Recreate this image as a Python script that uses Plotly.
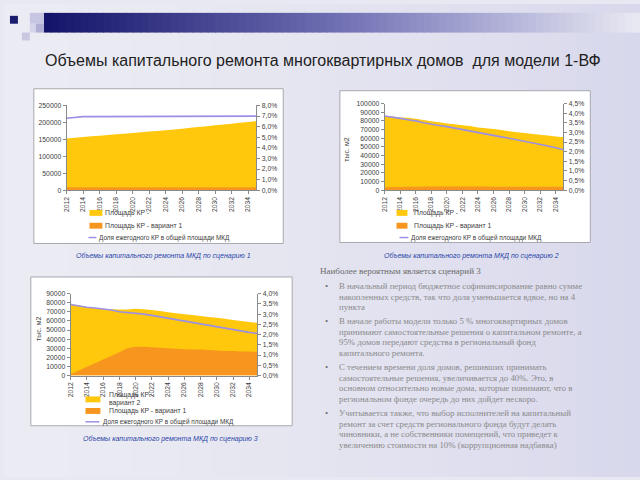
import plotly.graph_objects as go

# ---------------- data ----------------
years = [2012, 2013, 2014, 2015, 2016, 2017, 2018, 2019, 2020, 2021, 2022, 2023,
         2024, 2025, 2026, 2027, 2028, 2029, 2030, 2031, 2032, 2033, 2034, 2035]

# scenario 1
s1_var2 = [153000, 155000, 157000, 159000, 161000, 163000, 165000, 167000, 169000, 171000, 173000, 175000,
           177000, 179000, 181500, 184000, 186500, 189000, 191500, 194000, 196500, 199000, 201500, 204000]
s1_var1 = [9000, 9000, 9000, 9000, 9000, 9000, 9000, 9000, 9000, 9000, 9000, 9000,
           9000, 9000, 9000, 9000, 9000, 9000, 9000, 9000, 9000, 9000, 9000, 9000]
s1_share = [6.8, 6.9, 6.95, 6.95, 6.95, 6.95, 6.95, 6.95, 6.95, 6.95, 6.95, 6.95,
            6.95, 6.95, 6.95, 6.95, 6.95, 6.95, 6.95, 6.95, 6.95, 6.95, 6.95, 7.0]

# scenario 2
s2_var2 = [86000, 85000, 84000, 83500, 82500, 81000, 79500, 78500, 77000, 76000, 75000, 74000,
           72500, 71500, 70500, 69500, 68000, 67000, 66000, 65000, 64000, 63000, 62000, 61000]
s2_var1 = [3500, 3600, 3800, 4000, 4000, 4200, 4200, 4200, 4200, 4200, 4200, 4200,
           4200, 4200, 4100, 4100, 4100, 4000, 4000, 4000, 4000, 4000, 4000, 4000]
s2_share = [3.85, 3.8, 3.73, 3.66, 3.6, 3.5, 3.42, 3.36, 3.3, 3.22, 3.15, 3.08,
            3.0, 2.93, 2.85, 2.77, 2.7, 2.62, 2.55, 2.47, 2.4, 2.3, 2.2, 2.1]

# scenario 3
s3_var2 = [78500, 77000, 75500, 74500, 73500, 73000, 72500, 72500, 73500, 73000, 72000, 71000,
           69500, 68500, 67500, 66500, 65500, 64500, 63500, 62500, 61000, 60000, 59000, 58000]
s3_var1 = [1500, 5500, 9500, 13500, 17500, 21500, 25500, 30000, 31500, 31500, 31000, 30500,
           30000, 29500, 29000, 28500, 28500, 28000, 27500, 27000, 27000, 26500, 26500, 26000]
s3_share = [3.47, 3.4, 3.34, 3.3, 3.26, 3.2, 3.12, 3.08, 3.07, 3.0, 2.94, 2.87,
            2.8, 2.74, 2.67, 2.59, 2.51, 2.45, 2.38, 2.31, 2.24, 2.17, 2.11, 2.06]

tick_years = years[::2]

title_text = "Объемы капитального ремонта многоквартирных домов  для модели 1-ВФ"
leg_v2 = "Площадь КР -"
leg_v2b = "вариант 2"
leg_v1 = "Площадь КР - вариант 1"
leg_share = "Доля ежегодного КР в общей площади МКД"
y_title = "тыс. м2"
captions = ["Объемы капитального ремонта МКД по сценарию 1",
            "Объемы капитального ремонта МКД по сценарию 2",
            "Объемы капитального ремонта МКД по сценарию 3"]

heading = "Наиболее вероятным является сценарий 3"
bullets = [
    ["В начальный период бюджетное софинансирование равно сумме",
     "накопленных средств, так что доля уменьшается вдвое, но на 4",
     "пункта"],
    ["В начале работы модели только 5 % многоквартирных домов",
     "принимают самостоятельные решения о капитальном ремонте, а",
     "95% домов передают средства в региональный фонд",
     "капитального ремонта."],
    ["С течением времени доля домов, решивших принимать",
     "самостоятельные решения, увеличивается до 40%. Это, в",
     "основном относительно новые дома, которые понимают, что в",
     "региональном фонде очередь до них дойдет нескоро."],
    ["Учитывается также, что выбор исполнителей на капитальный",
     "ремонт за счет средств регионального фонда будут делать",
     "чиновники, а не собственники помещений, что приведет к",
     "увеличению стоимости на 10% (коррупционная надбавка)"],
]

# ---------------- helpers ----------------
W, H = 640, 480
def px(x):
    return x / W
def py(y):
    return 1 - y / H

YELLOW = "#FFC80C"
ORANGE = "#F7961E"
PURPLE = "#9C8FE6"
AX = "#8a8a8a"
TXT = "#404040"

def hexmix(c1, c2, t):
    a = [int(c1[i:i + 2], 16) for i in (1, 3, 5)]
    b = [int(c2[i:i + 2], 16) for i in (1, 3, 5)]
    return "#" + "".join("%02x" % round(a[k] + (b[k] - a[k]) * t) for k in range(3))

fig = go.Figure()

charts = [
    dict(v2=s1_var2, v1=s1_var1, sh=s1_share, xa="x", ya="y", ya2="y2",
         dom_x=(63, 254), dom_y=(103, 189), ymax=250000, dtick=50000, rmax=8, rdt=1),
    dict(v2=s2_var2, v1=s2_var1, sh=s2_share, xa="x2", ya="y3", ya2="y4",
         dom_x=(383, 563), dom_y=(101, 189), ymax=100000, dtick=10000, rmax=4.5, rdt=0.5),
    dict(v2=s3_var2, v1=s3_var1, sh=s3_share, xa="x3", ya="y5", ya2="y6",
         dom_x=(67, 255), dom_y=(294, 377), ymax=90000, dtick=10000, rmax=4, rdt=0.5),
]

TF = dict(size=6.8, color=TXT, family="Liberation Sans")
layout_axes = {}
for c in charts:
    fig.add_trace(go.Scatter(x=years, y=c["v2"], xaxis=c["xa"], yaxis=c["ya"], mode="none",
                             fill="tozeroy", fillcolor=YELLOW, hoverinfo="skip"))
    fig.add_trace(go.Scatter(x=years, y=c["v1"], xaxis=c["xa"], yaxis=c["ya"], mode="none",
                             fill="tozeroy", fillcolor=ORANGE, hoverinfo="skip"))
    fig.add_trace(go.Scatter(x=years, y=c["sh"], xaxis=c["xa"], yaxis=c["ya2"], mode="lines",
                             line=dict(color=PURPLE, width=1.6), hoverinfo="skip"))
    xk = "xaxis" + c["xa"][1:]
    yk = "yaxis" + c["ya"][1:]
    y2k = "yaxis" + c["ya2"][1:]
    layout_axes[xk] = dict(domain=[px(c["dom_x"][0]), px(c["dom_x"][1])], anchor=c["ya"],
                           range=[years[0], years[-1]], tickvals=tick_years,
                           ticktext=[str(t) for t in tick_years], tickangle=-90, tickfont=TF,
                           showline=True, linecolor=AX, linewidth=1, ticks="outside",
                           ticklen=3, tickcolor=AX, showgrid=False, zeroline=False, fixedrange=True)
    layout_axes[yk] = dict(domain=[py(c["dom_y"][1]), py(c["dom_y"][0])], anchor=c["xa"],
                           range=[0, c["ymax"]], dtick=c["dtick"], tickformat="d", tickfont=TF,
                           showline=True, linecolor=AX, linewidth=1, ticks="outside",
                           ticklen=3, tickcolor=AX, showgrid=False, zeroline=False, fixedrange=True)
    layout_axes[y2k] = dict(overlaying=c["ya"], side="right", anchor=c["xa"],
                            range=[0, c["rmax"]], dtick=c["rdt"], tickformat=".1f", ticksuffix="%",
                            tickfont=TF,
                            showline=True, linecolor=AX, linewidth=1, ticks="outside",
                            ticklen=3, tickcolor=AX, showgrid=False, zeroline=False, fixedrange=True)

shapes = []
# background gradient
n = 40
for i in range(n):
    x0 = W * i / n
    x1 = W * (i + 1) / n + 1
    col = hexmix("#ebebf3", "#d8d8ec", (i / (n - 1)) ** 1.5)
    shapes.append(dict(type="rect", xref="paper", yref="paper", x0=px(x0), x1=px(x1), y0=0, y1=1,
                       fillcolor=col, line=dict(width=0), layer="below"))
# banner gradient
nb = 80
for i in range(nb):
    x0 = 40 + (W - 40) * i / nb
    x1 = 40 + (W - 40) * (i + 1) / nb + 0.8
    t = i / (nb - 1)
    if t < 0.5:
        col = hexmix("#14146a", "#7070b4", t / 0.5)
    elif t < 0.8:
        col = hexmix("#7070b4", "#b8b8dc", (t - 0.5) / 0.3)
    else:
        col = hexmix("#b8b8dc", "#e8e8f2", (t - 0.8) / 0.2)
    shapes.append(dict(type="rect", xref="paper", yref="paper", x0=px(x0), x1=px(x1), y0=py(29), y1=py(9),
                       fillcolor=col, line=dict(width=0), layer="below"))
# small squares
for (x0, y0, x1, y1, col) in [(6, 12, 14, 20, "#1a1a6e"), (26, 9, 40, 20, "#c6c6e2"),
                              (26, 20, 32, 29, "#d4d4ea"), (18, 29, 26, 37, "#c8c8e2"),
                              (32, 20, 40, 29, "#b0b0d4")]:
    shapes.append(dict(type="rect", xref="paper", yref="paper", x0=px(x0), x1=px(x1), y0=py(y1), y1=py(y0),
                       fillcolor=col, line=dict(width=0), layer="below"))
# chart boxes
for (x0, y0, x1, y1) in [(30, 86, 281, 243), (338, 88, 590, 242), (27, 277, 290, 428)]:
    shapes.append(dict(type="rect", xref="paper", yref="paper", x0=px(x0), x1=px(x1), y0=py(y1), y1=py(y0),
                       fillcolor="white", line=dict(color="#a8a8b0", width=1), layer="below"))

annotations = []
def txt(x, y, s, size=7, color=TXT, anchor="left", family="Liberation Sans", angle=0):
    annotations.append(dict(x=px(x), y=py(y), xref="paper", yref="paper", text=s, showarrow=False,
                            xanchor=anchor, yanchor="middle", textangle=angle,
                            font=dict(size=size, color=color, family=family)))

# legends
legends = [
    dict(sw=(86, 99), yv2=212, yv2b=None, yv1=225, ysh=237, tx=100, lx=(85, 93), ltx=94, fs=6.8),
    dict(sw=(395, 406), yv2=212, yv2b=None, yv1=225, ysh=237, tx=411, lx=(398, 407), ltx=408, fs=6.8),
    dict(sw=(82, 97), yv2=397, yv2b=404.5, yv1=413, ysh=424, tx=104, lx=(82, 96), ltx=98, fs=6.8),
]
for L in legends:
    ys = L["yv2"] if L["yv2b"] is None else (L["yv2"] + L["yv2b"]) / 2 + 0.5
    shapes.append(dict(type="rect", xref="paper", yref="paper", x0=px(L["sw"][0]), x1=px(L["sw"][1]),
                       y0=py(ys + 3), y1=py(ys - 3), fillcolor=YELLOW, line=dict(width=0)))
    shapes.append(dict(type="rect", xref="paper", yref="paper", x0=px(L["sw"][0]), x1=px(L["sw"][1]),
                       y0=py(L["yv1"] + 3), y1=py(L["yv1"] - 3), fillcolor=ORANGE, line=dict(width=0)))
    shapes.append(dict(type="line", xref="paper", yref="paper", x0=px(L["lx"][0]), x1=px(L["lx"][1]),
                       y0=py(L["ysh"]), y1=py(L["ysh"]), line=dict(color=PURPLE, width=1.5)))
    txt(L["tx"], L["yv2"], leg_v2, size=L["fs"])
    if L["yv2b"] is not None:
        txt(L["tx"], L["yv2b"], leg_v2b, size=L["fs"])
    txt(L["tx"], L["yv1"], leg_v1, size=L["fs"])
    txt(L["ltx"], L["ysh"], leg_share, size=L["fs"] - 0.4)

# y-axis titles
txt(345, 148, y_title, size=7, anchor="center", angle=-90)
txt(34, 330, y_title, size=7, anchor="center", angle=-90)

# captions
CAP = "#2a45a8"
txt(160, 256, "<i>" + captions[0] + "</i>", size=7, color=CAP, anchor="center")
txt(470, 256, "<i>" + captions[1] + "</i>", size=7, color=CAP, anchor="center")
txt(168, 441, "<i>" + captions[2] + "</i>", size=7, color=CAP, anchor="center")

# title
txt(321, 57, title_text, size=16, color="#1e1e1e", anchor="center")

# right text block
SERIF = "Liberation Serif"
txt(316, 271, heading, size=9, color="#6a6a6a", family=SERIF)
y = 286
for b in bullets:
    txt(321, y, "•", size=9, color="#707070", family=SERIF)
    for line in b:
        txt(335, y, line, size=8.8, color="#8a8a8a", family=SERIF)
        y += 10.9
    y += 3

fig.update_layout(width=W, height=H, margin=dict(l=0, r=0, t=0, b=0), autosize=False,
                  paper_bgcolor="#e8e8f2", plot_bgcolor="white", showlegend=False,
                  separators=", ", shapes=shapes, annotations=annotations, hovermode=False,
                  **layout_axes)

fig.write_html("out.html", config=dict(displayModeBar=False),
               post_script="document.body.style.margin='0';document.body.style.overflow='hidden';")
